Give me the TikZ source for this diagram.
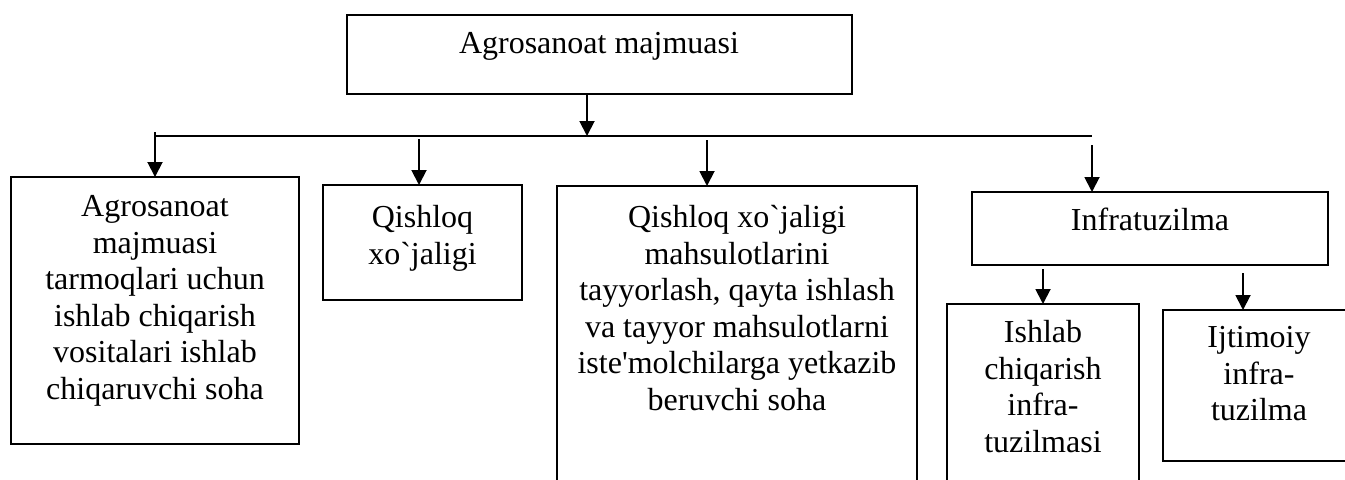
\documentclass[tikz,border=0pt]{standalone}
\usepackage{fontspec}
\setmainfont{Liberation Serif}
\usetikzlibrary{arrows.meta}
\begin{document}
\begin{tikzpicture}[x=0.5pt,y=-0.5pt,
  box/.style={draw=black, line width=0.95pt, inner sep=0pt, outer sep=0pt, rectangle},
  txt/.style={inner sep=0pt, outer sep=0pt, align=center, font=\fontsize{16}{18.25}\selectfont},
  conn/.style={line width=0.95pt},
  arr/.style={line width=0.95pt, -{Triangle[length=7.5pt,width=7.5pt]}}]
\useasboundingbox (0,0) rectangle (1345,479);
\fill[white] (0,0) rectangle (1345,479);
\clip (0,0) rectangle (1345,479);
% boxes
\node[box, minimum width=252.5pt, minimum height=39.5pt] (t) at (599.5,54.5) {};
\node[box, minimum width=144pt, minimum height=133.5pt] (b1) at (155,310.5) {};
\node[box, minimum width=99.5pt, minimum height=57.5pt] (b2) at (422.5,242.5) {};
\node[box, minimum width=180pt, minimum height=167pt] (b3) at (737,353) {};
\node[box, minimum width=178pt, minimum height=36.5pt] (b4) at (1150,228.5) {};
\node[box, minimum width=96pt, minimum height=108pt] (b5) at (1043,412) {};
\node[box, minimum width=96pt, minimum height=75.5pt] (b6) at (1259,385.5) {};
% texts
\node[txt, anchor=base] (tt) at (599,53) {Agrosanoat majmuasi};
\node[txt, anchor=north] (t1) at (155,195.5) {Agrosanoat\\majmuasi\\tarmoqlari uchun\\ishlab chiqarish\\vositalari ishlab\\chiqaruvchi soha};
\node[txt, anchor=north] (t2) at (422.5,205.5) {Qishloq\\xo\textasciigrave jaligi};
\node[txt, anchor=north] (t3) at (737,205.5) {Qishloq xo\textasciigrave jaligi\\mahsulotlarini\\tayyorlash, qayta ishlash\\va tayyor mahsulotlarni\\iste\textquotesingle molchilarga yetkazib\\beruvchi soha};
\node[txt, anchor=base] (t4) at (1150,230) {Infratuzilma};
\node[txt, anchor=north] (t5) at (1043,320.5) {Ishlab\\chiqarish\\infra-\\tuzilmasi};
\node[txt, anchor=north] (t6) at (1259,326.5) {Ijtimoiy\\infra-\\tuzilma};
% connector coordinates
\coordinate (h0) at (587,136);
\coordinate (hl) at (155,136);
\coordinate (hr) at (1092,136);
\coordinate (s1) at (155,132);
\coordinate (s2) at (419,139);
\coordinate (s3) at (707,140);
\coordinate (s4) at (1092,145);
\coordinate (s5) at (1043,269);
\coordinate (s6) at (1243,273);
% connectors
\draw[conn] (hl) -- (hr);
\draw[arr] (t.south -| h0) -- (h0);
\draw[arr] (s1) -- (b1.north);
\draw[arr] (s2) -- (s2 |- b2.north);
\draw[arr] (s3) -- (s3 |- b3.north);
\draw[arr] (s4) -- (s4 |- b4.north);
\draw[arr] (s5) -- (b5.north);
\draw[arr] (s6) -- (s6 |- b6.north);
\end{tikzpicture}
\end{document}
